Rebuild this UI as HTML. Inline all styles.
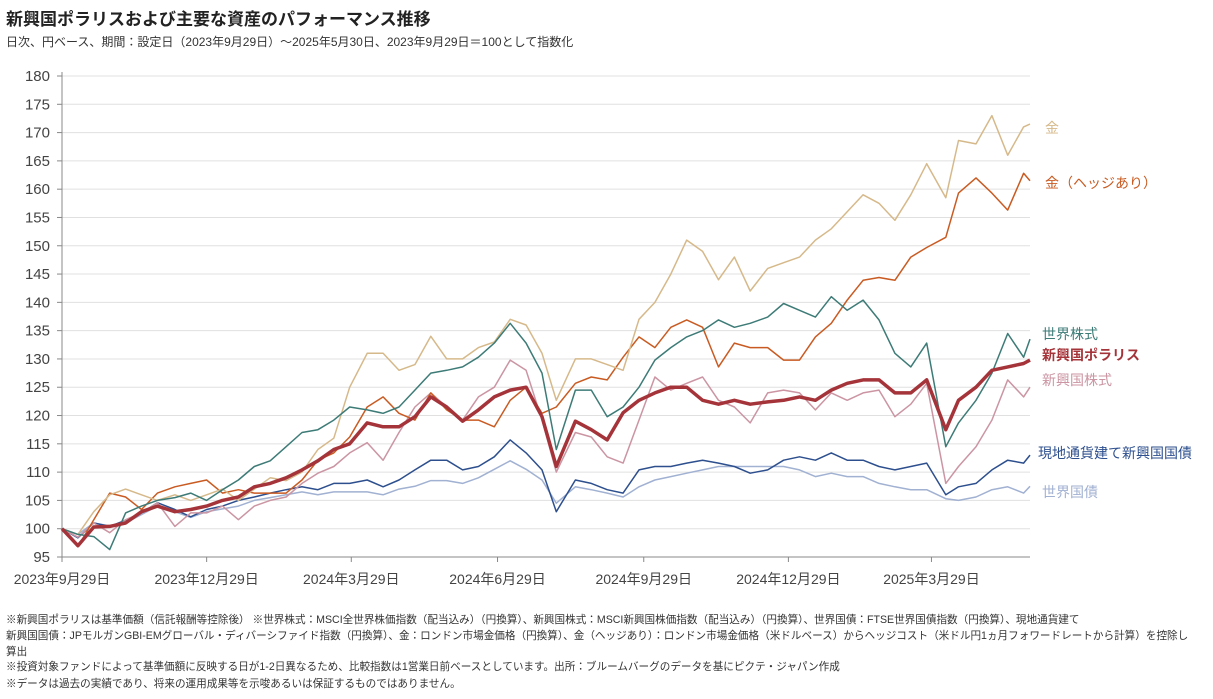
<!DOCTYPE html>
<html><head><meta charset="utf-8">
<style>
body{margin:0;background:#fff;font-family:"Liberation Sans","Noto Sans CJK JP",sans-serif;}
#wrap{position:relative;width:1213px;height:699px;overflow:hidden;}
.t{position:absolute;white-space:nowrap;color:#333;}
.fn{font-size:10.6px;}
</style></head>
<body>
<div id="wrap">
<div class="t" style="left:6px;top:5px;font-size:17px;font-weight:bold;color:#222;">新興国ポラリスおよび主要な資産のパフォーマンス推移</div>
<div class="t" style="left:6px;top:33px;font-size:12px;">日次、円ベース、期間：設定日（2023年9月29日）～2025年5月30日、2023年9月29日＝100として指数化</div>
<svg id="chart" width="1213" height="610" style="position:absolute;left:0;top:0;"></svg>
<div class="t fn" style="left:6px;top:612px;">※新興国ポラリスは基準価額（信託報酬等控除後） ※世界株式：MSCI全世界株価指数（配当込み）（円換算）、新興国株式：MSCI新興国株価指数（配当込み）（円換算）、世界国債：FTSE世界国債指数（円換算）、現地通貨建て</div>
<div class="t fn" style="left:6px;top:628px;">新興国国債：JPモルガンGBI-EMグローバル・ディバーシファイド指数（円換算）、金：ロンドン市場金価格（円換算）、金（ヘッジあり）：ロンドン市場金価格（米ドルベース）からヘッジコスト（米ドル円1ヵ月フォワードレートから計算）を控除し</div>
<div class="t fn" style="left:6px;top:644px;">算出</div>
<div class="t fn" style="left:6px;top:659px;">※投資対象ファンドによって基準価額に反映する日が1-2日異なるため、比較指数は1営業日前ベースとしています。出所：ブルームバーグのデータを基にピクテ・ジャパン作成</div>
<div class="t fn" style="left:6px;top:676px;">※データは過去の実績であり、将来の運用成果等を示唆あるいは保証するものではありません。</div>
</div>
<script>
const days=[0,10,20,30,40,50,60,71,81,91,101,111,121,131,141,151,161,171,181,192,202,212,222,232,242,252,262,272,282,292,302,311,323,333,343,353,363,373,383,393,403,413,423,433,444,454,464,474,484,494,504,514,524,534,544,556,564,575,585,595,605,609];
const gold=[100,99,103,106,107,106,105,106,105,106,107,105,107,109,108.5,110,114,116,125,131,131,128,129,134,130,130,132,133,137,136,131,122.7,130,130,129,128,137,140,145,151,149,144,148,142,146,147,148,151,153,156,159,157.5,154.5,159,164.5,158.5,168.6,168,173,166,171,171.5];
const goldHedged=[100,96.8,101.6,106.3,105.6,103.4,106.3,107.4,108,108.6,106.3,106.9,106.3,106.3,106.3,108.6,112.1,113.4,116.2,121.5,123.3,120.4,119.2,124,121,119.2,119.2,118,122.7,125,120.4,121.5,125.7,126.8,126.3,130.3,133.9,132,135.6,136.9,135.6,128.6,132.8,132,132,129.8,129.8,133.9,136.3,140.4,143.9,144.4,143.9,148,149.7,151.5,159.3,162,159.3,156.3,162.8,161.5];
const worldEquity=[100,99,98.6,96.3,102.8,104,105,105.5,106.3,105,106.9,108.6,111,112,114.5,117,117.5,119.2,121.5,121,120.4,121.5,124.5,127.5,128,128.6,130.3,132.8,136.3,132.8,127.5,114,124.5,124.5,119.8,121.5,125,129.8,132,133.9,135,136.9,135.6,136.3,137.4,139.8,138.6,137.4,141,138.6,140.4,136.9,131,128.6,132.8,114.5,118.7,122.7,127.5,134.5,130.3,133.5];
const polaris=[100,97,100.3,100.4,101,103,104,103,103.4,104,105,105.6,107.4,108,109,110.4,112,114,115,118.7,118,118,119.8,123.3,121.5,119,121,123.3,124.5,125,119.8,111,119,117.5,115.7,120.5,122.7,124,125,125,122.7,122,122.7,122,122.4,122.7,123.3,122.7,124.5,125.7,126.3,126.3,124,124,126.3,117.5,122.7,125,128,128.6,129.2,129.8];
const emEquity=[100,98.5,101,99.3,101.6,102.8,104.6,100.4,102.8,102.8,104,101.6,104,105,105.6,108,109.8,111,113.4,115.2,112.1,117,121.5,124,121.5,119.2,123.3,125,129.8,128,119.2,110,117,116.2,112.7,111.6,119.2,126.8,124.5,125.7,126.8,122.7,121.5,118.7,124,124.5,124,121,124,122.7,124,124.5,119.8,122,125.7,108,111,114.5,119.2,126.3,123.3,125];
const emBonds=[100,98.4,101,100.4,101.5,102.8,104.6,103.4,102.1,103.4,104,105,105.6,106.3,106.9,107.4,106.9,108,108,108.6,107.4,108.6,110.4,112.1,112.1,110.4,111,112.7,115.7,113.4,110.4,103,108.6,108,106.9,106.3,110.4,111,111,111.6,112.1,111.6,111,109.8,110.4,112.1,112.7,112.1,113.4,112.1,112.1,111,110.4,111,111.6,106,107.4,108,110.4,112.1,111.6,113];
const worldBonds=[100,99,101,100.5,101,102.5,104,103,102,103,103.5,104,105,105.5,106,106.5,106,106.5,106.5,106.5,106,107,107.5,108.5,108.5,108,109,110.5,112,110.5,108.6,104.5,107.4,106.9,106.3,105.6,107.4,108.6,109.2,109.8,110.4,111,111,111,111,111,110.4,109.2,109.8,109.2,109.2,108,107.4,106.9,106.9,105.3,105,105.6,106.9,107.4,106.3,107.5];
const yTicks=[95,100,105,110,115,120,125,130,135,140,145,150,155,160,165,170,175,180];
const xTickDays=[0,91,182,274,366,457,547];
const xTickLabels=["2023年9月29日","2023年12月29日","2024年3月29日","2024年6月29日","2024年9月29日","2024年12月29日","2025年3月29日"];
const seriesNames=["worldBonds","emBonds","emEquity","goldHedged","gold","worldEquity","polaris"];

const svg=document.getElementById('chart');
const NS='http://www.w3.org/2000/svg';
const X0=62,X1=1030,Y0=557,Y1=76;
function xs(d){return X0+(X1-X0)*d/609;}
function ys(v){return Y0-(Y0-Y1)*(v-95)/85;}
function mk(tag,attrs){const e=document.createElementNS(NS,tag);for(const k in attrs)e.setAttribute(k,attrs[k]);svg.appendChild(e);return e;}

yTicks.forEach(v=>{
  if(v>95){const g=mk('line',{x1:X0,x2:X1,y1:ys(v),y2:ys(v),stroke:'#e0e0e0','stroke-width':1});
  
  }
  const tk=mk('line',{x1:X0-5,x2:X0,y1:ys(v),y2:ys(v),stroke:'#888'});
  
  
  const t=mk('text',{x:X0-12,y:ys(v)+5,'text-anchor':'end','font-size':15,fill:'#444','font-family':'Liberation Sans, sans-serif'});
  t.textContent=v;
  
  
});
const ya=mk('line',{x1:X0,x2:X0,y1:Y1-4,y2:Y0,stroke:'#888'});


const xa=mk('line',{x1:X0,x2:X1,y1:Y0,y2:Y0,stroke:'#888'});


xTickDays.forEach((d,i)=>{
  const tk=mk('line',{x1:xs(d),x2:xs(d),y1:Y0,y2:Y0+5,stroke:'#888'});
  
  
  const t=mk('text',{x:xs(d),y:584,'text-anchor':'middle','font-size':14,fill:'#444','font-family':'Liberation Sans, Noto Sans CJK JP, sans-serif'});
  t.textContent=xTickLabels[i];
  
  
});
const data={worldBonds,emBonds,emEquity,goldHedged,gold,worldEquity,polaris};
const colors={worldBonds:'#a1b1d2',emBonds:'#2d4f8e',emEquity:'#cb95a3',goldHedged:'#c95b22',gold:'#d6b98a',worldEquity:'#3d7b77',polaris:'#a5343a'};
const widths={worldBonds:1.5,emBonds:1.5,emEquity:1.5,goldHedged:1.5,gold:1.5,worldEquity:1.5,polaris:3.5};
seriesNames.forEach(n=>{
  const vals=data[n];
  const d=vals.map((v,i)=>(i?'L':'M')+xs(days[i]).toFixed(1)+','+ys(v).toFixed(1)).join('');
  const p=mk('path',{d:d,fill:'none',stroke:colors[n],'stroke-width':widths[n],'stroke-linejoin':'round'});
  
  
});
const labels=[["金",1045,133,'gold',false],["金（ヘッジあり）",1045,188,'goldHedged',false],["世界株式",1042,339,'worldEquity',false],["新興国ポラリス",1042,360,'polaris',true],["新興国株式",1042,385,'emEquity',false],["現地通貨建て新興国国債",1038,458,'emBonds',false],["世界国債",1042,497,'worldBonds',false]];
labels.forEach(l=>{
  const t=mk('text',{x:l[1],y:l[2],'font-size':14,fill:colors[l[3]],'font-weight':l[4]?'bold':'normal','font-family':'Liberation Sans, Noto Sans CJK JP, sans-serif'});
  t.textContent=l[0];
  
  
});
</script>
</body></html>
